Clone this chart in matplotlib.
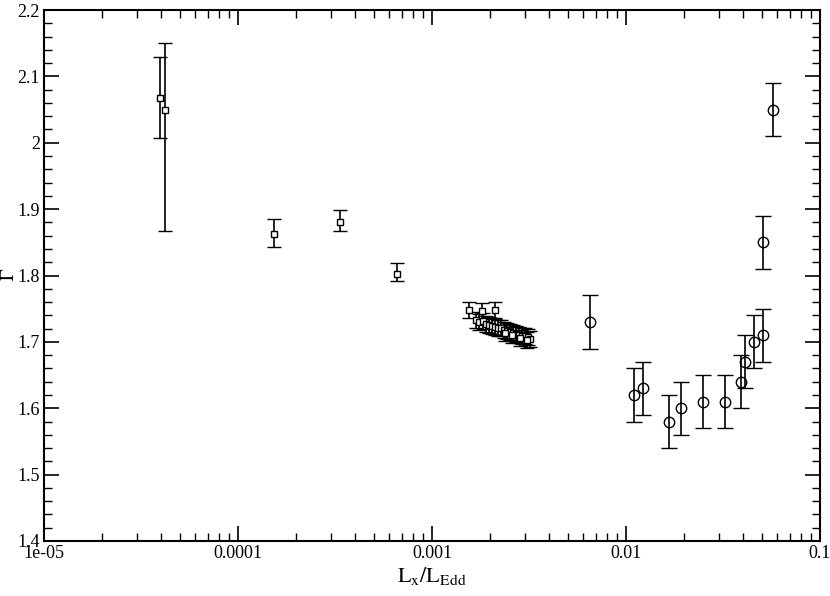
import matplotlib
matplotlib.use("Agg")
import matplotlib.pyplot as plt
import matplotlib.ticker as mticker
import numpy as np

plt.rcParams['font.family'] = ['Liberation Serif', 'DejaVu Serif']
plt.rcParams['mathtext.fontset'] = 'stix'

# Squares (low luminosity)
sq_x = [3.95e-5, 4.22e-5, 1.54e-4, 3.36e-4, 6.58e-4, 1.56e-3, 1.82e-3, 2.12e-3,
        1.692e-3, 1.754e-3, 1.839e-3, 1.905e-3, 1.974e-3, 2.047e-3, 2.12e-3, 2.196e-3,
        2.276e-3, 2.36e-3, 2.44e-3, 2.53e-3, 2.62e-3, 2.72e-3, 2.82e-3, 2.92e-3,
        3.03e-3, 3.14e-3, 3.21e-3, 3.10e-3, 2.85e-3, 2.59e-3, 2.39e-3]
sq_y = [2.068, 2.050, 1.863, 1.881, 1.802, 1.748, 1.746, 1.748,
        1.733, 1.730, 1.731, 1.727, 1.725, 1.724, 1.722, 1.721,
        1.721, 1.718, 1.716, 1.715, 1.713, 1.712, 1.710, 1.709,
        1.709, 1.707, 1.704, 1.703, 1.706, 1.710, 1.713]
sq_elo = [0.061, 0.183, 0.020, 0.014, 0.011, 0.012, 0.012, 0.012] + [0.012] * 23
sq_ehi = [0.061, 0.100, 0.022, 0.018, 0.017, 0.012, 0.012, 0.012] + [0.012] * 23

# Circles (high luminosity)
ci_x = [6.5e-3, 0.01097, 0.01227, 0.0166, 0.0191, 0.0248, 0.0324, 0.0392, 0.0409,
        0.0455, 0.0510, 0.0508, 0.0570]
ci_y = [1.73, 1.62, 1.63, 1.58, 1.60, 1.61, 1.61, 1.64, 1.67, 1.70, 1.71, 1.85, 2.05]
ci_err = [0.04] * 13

xticks = [1e-5, 1e-4, 1e-3, 1e-2, 1e-1]
xticklabels = ["1e-05", "0.0001", "0.001", "0.01", "0.1"]

fig = plt.figure(figsize=(8.30, 5.96), dpi=100)
ax = fig.add_axes([44/830, 1 - 541/596, (820-44)/830, (541-10)/596])

ax.errorbar(sq_x, sq_y, yerr=[sq_elo, sq_ehi], fmt='s', mfc='white', mec='black',
            ms=5, mew=1.0, ecolor='black', elinewidth=1.2, capsize=5.3, capthick=1.2)
ax.errorbar(ci_x, ci_y, yerr=ci_err, fmt='o', mfc='none', mec='black',
            ms=7.5, mew=1.0, ecolor='black', elinewidth=1.2, capsize=5.6, capthick=1.2)

ax.set_xscale('log')
ax.set_xlim(1e-5, 0.1)
ax.set_ylim(1.4, 2.2)
ax.set_xticks(xticks)
ax.set_xticklabels(xticklabels)
ax.xaxis.set_minor_locator(mticker.LogLocator(base=10, subs=np.arange(2, 10)))
ax.xaxis.set_minor_formatter(mticker.NullFormatter())
ax.yaxis.set_major_locator(mticker.MultipleLocator(0.1))
ax.yaxis.set_minor_locator(mticker.MultipleLocator(0.02))
ax.yaxis.set_major_formatter(mticker.FuncFormatter(lambda v, p: "%g" % round(v, 2)))

ax.tick_params(which='both', direction='in', top=True, right=True, labelsize=13)
ax.tick_params(which='major', length=11, width=1.2, pad=3)
ax.tick_params(which='minor', length=6, width=1.0)
for s in ax.spines.values():
    s.set_linewidth(1.5)

ax.set_xlabel(r'$\mathrm{L_x/L_{Edd}}$', fontsize=16, labelpad=2)
fig.text(9/830, 1 - 274/596, r'$\Gamma$', rotation=90, fontsize=14,
         ha='center', va='center')

fig.savefig('out.png', dpi=100)
